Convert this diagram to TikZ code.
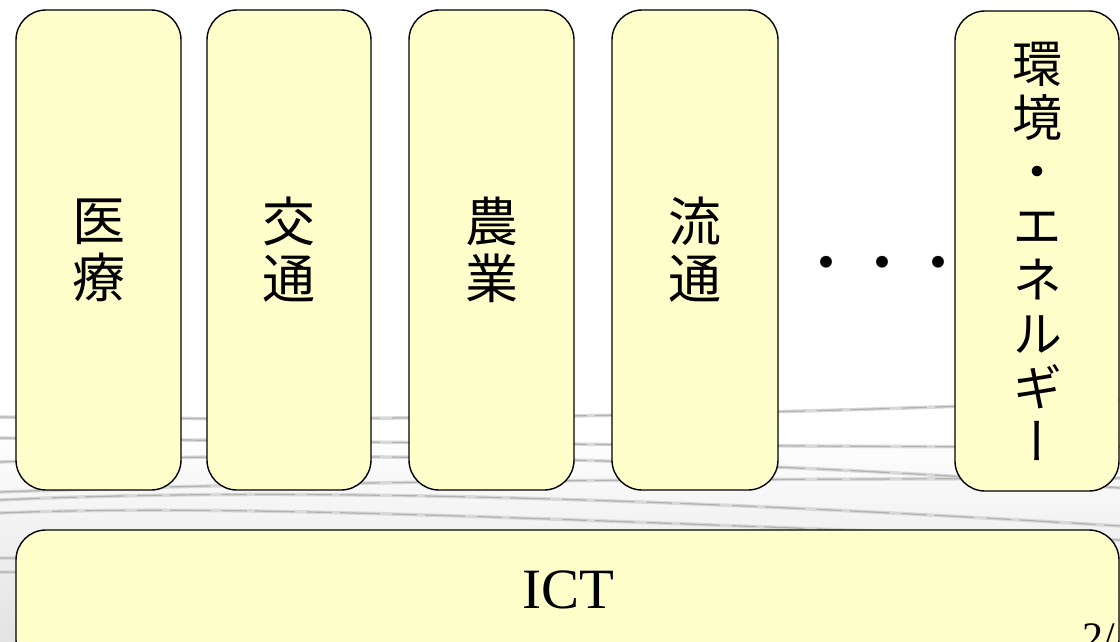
\documentclass[tikz,border=0pt]{standalone}
\usepackage{fontspec}
\setmainfont{Liberation Serif}
\newfontfamily\jp{Noto Sans CJK JP}
\newfontfamily\jpv[RawFeature=+vert]{Noto Sans CJK JP}
\definecolor{boxyellow}{HTML}{FFFFCC}
\begin{document}
\begin{tikzpicture}[x=1pt,y=-1pt,
  cat/.style={draw=black, line width=1.4pt, fill=boxyellow, rounded corners=30pt,
    minimum height=480pt, inner sep=0pt, align=center,
    font=\jp\fontsize{53}{57}\selectfont},
  swoosh/.style={draw=gray!30, line width=3.5pt},
  swooshcore/.style={draw=gray!60, line width=1.2pt, dash pattern=on 40pt off 12pt on 25pt off 8pt}]
\useasboundingbox (0,0) rectangle (1120,642);
\fill[white] (0,0) rectangle (1120,642);
\shade[top color=white, bottom color=gray!22] (0,430) rectangle (1120,642);
% decorative swoosh lines
\foreach \st in {swoosh,swooshcore}{
  \draw[\st] (0,417) .. controls (300,421) and (700,418) .. (1120,400);
  \draw[\st] (0,438) .. controls (300,441) and (700,447) .. (1120,447);
  \draw[\st] (0,462) .. controls (300,450) and (750,458) .. (1120,488);
  \draw[\st] (0,492) .. controls (400,478) and (800,480) .. (1120,478);
  \draw[\st] (0,500) .. controls (300,486) and (700,500) .. (1120,526);
  \draw[\st] (0,513) .. controls (250,503) and (600,522) .. (1120,540);
  \draw[\st] (0,558) .. controls (300,560) and (700,575) .. (1120,600);
  \draw[\st] (0,572) .. controls (300,575) and (700,590) .. (1120,620);
}
% category boxes
\node[cat, minimum width=165pt] (iryo)   at (98.5,250) {医\\療};
\node[cat, minimum width=164pt] (kotsu)  at (289,250)  {交\\通};
\node[cat, minimum width=165pt] (nogyo)  at (491.5,250) {農\\業};
\node[cat, minimum width=166pt] (ryutsu) at (695,250)  {流\\通};
\node[cat, minimum width=164pt, font=\jpv\fontsize{50}{54}\selectfont] (kankyo) at (1037,251)
  {環\\境\\・\\エ\\ネ\\ル\\ギ\\ー};
\node[anchor=base, font=\jp\fontsize{56}{56}\selectfont, inner sep=0pt] (dots) at (882,283) {・・・};
% ICT base
\node[draw=black, line width=1.4pt, fill=boxyellow, rounded corners=30pt,
  minimum width=1103pt, minimum height=140pt, inner sep=0pt] (ictbox) at (567.5,600) {};
\node[anchor=base, font=\fontsize{57}{57}\selectfont, inner sep=0pt] (ict) at (568,608) {ICT};
\node[anchor=base west, font=\fontsize{42}{42}\selectfont, inner sep=0pt] (page) at (1082,651) {2/};
\end{tikzpicture}
\end{document}
